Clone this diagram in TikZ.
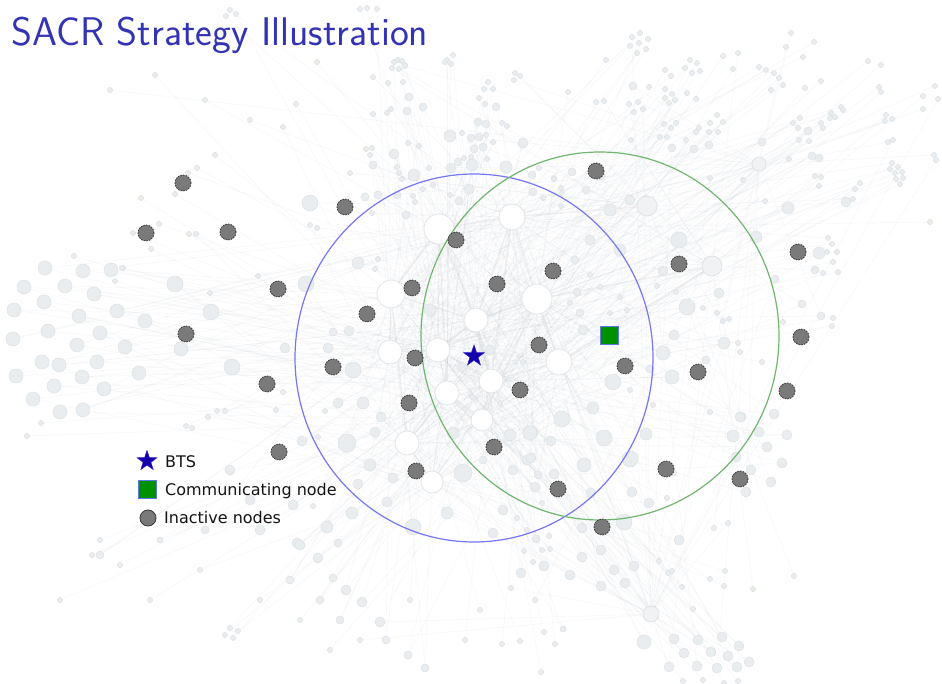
\documentclass[tikz,border=0pt]{standalone}
\usepackage{fontspec}
\newfontfamily\legendfont{DejaVu Sans}
\usetikzlibrary{shapes.geometric}

\definecolor{titleblue}{RGB}{51,51,179}
\definecolor{ringblue}{RGB}{118,118,250}
\definecolor{ringgreen}{RGB}{112,182,112}
\definecolor{inactfill}{RGB}{122,122,122}
\definecolor{inactedge}{RGB}{55,55,55}
\definecolor{btsblue}{RGB}{20,0,168}
\definecolor{btsedge}{RGB}{45,35,200}
\definecolor{commgreen}{RGB}{0,145,0}
\definecolor{commedge}{RGB}{95,120,225}
\definecolor{dotfill}{RGB}{233,237,240}
\definecolor{dotedge}{RGB}{221,226,230}
\definecolor{edgecol}{RGB}{185,196,206}
\definecolor{hubedge}{RGB}{226,229,232}
\definecolor{spoke}{RGB}{205,205,208}

\tikzset{
  bgdot/.style={circle, inner sep=0pt, fill=dotfill, draw=dotedge, line width=0.5pt},
  bgedge/.style={draw=edgecol, line width=0.4pt, opacity=0.15},
  hub/.style={circle, inner sep=0pt, fill=white, draw=hubedge, line width=0.8pt},
  hubsoft/.style={circle, inner sep=0pt, fill=dotfill!70!white, draw=dotedge, line width=0.7pt},
  hublink/.style={draw=spoke, line width=1.6pt, opacity=0.28},
  inactive/.style={circle, inner sep=0pt, minimum size=16pt, fill=inactfill,
    draw=inactedge, line width=0.8pt, dash pattern=on 1.6pt off 1.1pt},
  btsmark/.style={star, star points=5, star point ratio=2.55, inner sep=0pt,
    minimum size=22pt, fill=btsblue, draw=btsedge, line width=0.5pt},
  commmark/.style={rectangle, inner sep=0pt, minimum size=18pt, fill=commgreen,
    draw=commedge, line width=0.9pt},
  rangering/.style={ellipse, inner sep=0pt, line width=1.2pt},
  legendtext/.style={anchor=base west, inner sep=0pt, font=\legendfont\fontsize{16}{19}\selectfont, text=black!92}
}

% hub positions and radii
\def\hublist{439/229/15, 512/217/13, 391/294/14, 537/299/15,
  476/320/12, 438/350/12, 390/352/12, 559/362/13, 491/381/12, 447/393/12,
  482/420/11, 407/443/12, 432/482/11}
\def\softhublist{712/266/10, 647/206/10, 759/164/7, 651/614/8}

% small network nodes
\def\smalllist{230/10, 236/14, 226/16, 360/9, 367/8, 377/9, 398/60, 405/65,
  447/60, 453/55, 394/62, 402/61, 392/68, 399/69, 405/66, 388/83, 403/82, 373/77, 387/113,
  391/109, 373/114, 296/104, 283/127, 317/62, 445/62, 451/64, 488/82, 484/89, 493/89,
  515/73, 520/76, 514/80, 479/98, 485/104, 502/123, 507/126, 568/92, 462/133, 486/135,
  493/142, 408/143, 419/146, 366/149, 372/148, 370/155, 397/167, 399/173, 402/179,
  429/168, 464/158, 471/157, 487/159, 539/168, 554/178, 450/195, 413/196, 415/202,
  423/189, 433/185, 543/198, 561/188, 562/193, 554/179, 561/206, 350/173, 110/90,
  155/75, 205/100, 250/120, 215/155, 188/173, 197/168, 175/194, 141/198, 159/224,
  133/233, 151/249, 189/234, 196/234, 310/225, 317/228, 258/276, 210/293, 373/166,
  366/197, 372/213, 378/194, 378/259, 375/269, 123/268, 74/256, 122/268, 115/281,
  41/423, 27/436, 208/417, 217/411, 225/411, 186/426, 192/428, 632/37, 640/33, 648/39,
  630/46, 639/43, 646/49, 637/53, 606/60, 690/60, 697/63, 685/68, 692/73, 700/71,
  723/56, 738/53, 733/69, 791/33, 786/47, 803/57, 814/42, 671/76, 665/70, 649/87,
  665/89, 672/94, 665/98, 675/100, 669/103, 687/93, 696/99, 596/102, 604/101, 629/104,
  638/102, 643/109, 634/112, 717/115, 710/123, 723/122, 671/128, 676/123, 664/124,
  699/128, 696/132, 709/132, 718/132, 660/137, 667/137, 631/140, 686/140, 743/180,
  710/178, 765/201, 759/67, 766/70, 774/73, 779/78, 783/85, 771/90, 805/88, 821/81,
  868/61, 881/65, 879/87, 881/92, 923/96, 923/109, 935/86, 938/99, 841/107, 843/110,
  831/113, 835/117, 830/118, 800/118, 793/123, 798/128, 821/123, 823/128, 799/140,
  809/141, 789/159, 886/115, 892/119, 885/121, 893/140, 888/142, 892/163, 898/167,
  890/169, 895/173, 902/172, 896/179, 903/178, 900/184, 815/176, 821/177, 819/186,
  855/189, 860/183, 853/199, 934/155, 936/160, 930/222, 828/238, 832/244, 837/252,
  833/262, 827/252, 838/272, 833/318, 832/326, 783/322, 823/273, 657/286, 676/292,
  703/308, 717/313, 723/321, 729/319, 710/412, 653/405, 762/362, 740/352, 738/343,
  600/287, 590/275, 620/297, 627/310, 610/313, 570/303, 630/390, 472/397, 500/403,
  523/362, 714/528, 728/523, 549/536, 524/551, 542/550, 550/549, 533/562, 659/561,
  668/573, 672/571, 682/587, 693/609, 710/579, 724/586, 725/571, 753/589, 794/576,
  535/600, 511/588, 544/632, 555/644, 520/641, 502/644, 541/672, 683/681, 703/680,
  724/683, 738/681, 230/628, 225/635, 233/638, 238/631, 283/392, 276/410, 325/411,
  318/437, 313/506, 542/503, 517/518, 527/530, 537/538, 674/473, 667/498, 100/540,
  92/555, 120/565, 60/600, 150/600, 200/570, 260/600, 300/620, 330/650, 360/640,
  410/600, 465/640, 480/610}

% medium network nodes
\def\mediumlist{45/268/7, 83/271/7, 111/270/7, 24/287/7, 65/286/7,
  94/294/7, 44/302/7, 14/310/7, 79/316/7, 117/311/7, 145/321/7, 175/284/8, 211/312/8,
  48/331/7, 13/339/7, 100/333/7, 77/345/7, 125/347/7, 181/349/7, 42/362/7, 59/365/7,
  97/362/7, 16/376/7, 82/377/7, 139/373/7, 232/367/8, 54/386/7, 104/389/7, 33/399/7,
  60/412/7, 83/410/7, 633/86/4, 672/148/4, 694/149/4, 709/145/4, 762/142/4, 788/208/6,
  808/131/4, 812/156/4, 819/158/4, 846/202/5, 409/97/4, 407/111/4, 423/107/4, 496/107/4,
  478/122/4, 486/124/4, 450/136/6, 471/138/4, 479/137/4, 394/154/5, 373/165/4, 414/175/6,
  451/168/5, 458/162/4, 472/165/6, 483/147/4, 474/149/4, 506/167/6, 523/143/5, 532/175/4,
  572/172/4, 469/189/5, 459/201/4, 310/203/8, 365/197/4, 378/195/4, 397/195/4, 406/215/4,
  533/192/4, 358/263/6, 306/284/8, 285/348/5, 328/348/5, 349/331/5, 333/332/4,
  430/310/6, 490/350/5, 583/330/5, 613/382/8, 580/313/4, 593/408/6, 577/292/4, 462/367/5,
  353/370/8, 363/403/6, 347/443/9, 338/403/5, 375/432/5, 381/417/5, 370/465/6, 393/478/5,
  387/502/5, 358/484/5, 352/513/6, 327/527/6, 338/543/4, 297/543/5, 302/441/5, 293/505/5,
  447/513/6, 413/527/8, 463/473/9, 453/433/6, 483/460/4, 510/435/6, 532/432/6, 527/460/5,
  513/470/5, 538/475/4, 535/487/5, 503/510/5, 493/533/5, 562/419/8, 530/433/7, 551/441/5,
  531/458/5, 554/474/5, 584/465/7, 604/438/8, 630/459/8, 646/434/6, 632/492/5, 649/503/5,
  733/436/6, 741/417/5, 774/414/5, 759/432/5, 787/435/5, 767/447/5, 782/463/5, 751/470/5,
  771/482/5, 746/492/5, 736/457/5, 624/522/8, 679/540/5, 582/528/5, 591/493/5, 679/240/8,
  687/307/8, 719/293/5, 663/353/7, 672/377/7, 724/343/6, 674/335/5, 756/237/6, 819/253/6,
  815/270/4, 802/304/4, 821/316/4, 775/279/4, 740/417/5, 663/271/5, 706/360/4, 650/369/4,
  644/642/7, 674/639/5, 698/640/5, 722/637/5, 739/646/5, 684/653/5, 711/652/5, 728/656/5,
  749/662/5, 669/667/5, 697/666/5, 717/668/5, 737/667/5, 601/550/5, 582/557/5, 614/570/5,
  634/566/5, 625/583/5, 601/586/5, 570/575/5, 521/573/5, 544/566/5, 536/539/4, 563/629/3,
  300/545/5, 318/558/5, 333/578/4, 346/590/5, 362/602/5, 380/622/5, 386/640/4, 408/655/4,
  425/668/4, 320/600/4, 340/620/4, 290/580/4, 100/555/4, 230/470/5, 250/500/5, 260/530/5,
  205/530/4, 160/540/3, 600/175/5, 610/210/6, 586/190/4, 630/200/5, 620/250/6, 590/240/5,
  575/260/4}

\begin{document}
\begin{tikzpicture}[x=1pt, y=-1pt]
\useasboundingbox (0,0) rectangle (942,684);
\fill[white] (0,0) rectangle (942,684);

% hub centres
\foreach \x/\y/\r [count=\k] in \hublist {\coordinate (hc\k) at (\x,\y);}
\foreach \x/\y/\r [count=\k from 14] in \softhublist {\coordinate (hc\k) at (\x,\y);}

% faint links from every node to the hubs
\foreach \x/\y [count=\i] in \smalllist {
  \coordinate (sc\i) at (\x,\y);
  \pgfmathtruncatemacro{\hA}{mod(\i,17)+1}
  \draw[bgedge] (sc\i) -- (hc\hA);
}
\foreach \x/\y/\r [count=\i] in \mediumlist {
  \coordinate (mc\i) at (\x,\y);
  \pgfmathtruncatemacro{\hA}{mod(\i,17)+1}
  \pgfmathtruncatemacro{\hB}{mod(5*\i+3,13)+1}
  \draw[bgedge] (mc\i) -- (hc\hA);
  \draw[bgedge] (mc\i) -- (hc\hB);
}

% heavier links between hubs
\foreach \a/\b in {1/5, 1/3, 2/4, 3/5, 4/5, 5/6, 6/9, 4/8, 7/6, 9/11, 10/12, 1/2,
  3/7, 5/9, 8/9, 10/11, 12/13, 1/6, 2/5, 4/9, 3/12, 6/10, 1/10, 2/9, 4/11, 14/4, 15/2, 14/8}
  {\draw[hublink] (hc\a) -- (hc\b);}

% network nodes
\foreach \x/\y [count=\i] in \smalllist {\node[bgdot, minimum size=5.2pt] (s\i) at (sc\i) {};}
\foreach \x/\y/\r [count=\i] in \mediumlist {\node[bgdot, minimum size=2*\r pt] (m\i) at (mc\i) {};}
\foreach \x/\y/\r [count=\k] in \hublist {\node[hub, minimum size=2*\r pt] (h\k) at (hc\k) {};}
\foreach \x/\y/\r [count=\k from 14] in \softhublist {\node[hubsoft, minimum size=2*\r pt] (h\k) at (hc\k) {};}

% coverage ranges
\node[rangering, draw=ringblue, minimum width=358pt, minimum height=368pt] (btsrange) at (474,358) {};
\node[rangering, draw=ringgreen, minimum width=358pt, minimum height=368pt] (commrange) at (600,336) {};

% inactive nodes
\foreach \x/\y [count=\i] in {183/183, 345/207, 146/233, 228/232, 456/240, 596/171,
  798/252, 679/264, 553/271, 278/289, 412/288, 497/284, 367/314, 186/334, 801/337,
  539/345, 415/358, 333/367, 625/366, 698/372, 267/384, 520/390, 787/391, 409/403,
  494/447, 279/452, 416/471, 666/469, 740/479, 558/489, 602/527}
  {\node[inactive] (n\i) at (\x,\y) {};}

% base station and communicating node
\node[btsmark] (bts) at (474,356) {};
\node[commmark] (comm) at (609,335) {};

% legend
\node[btsmark, minimum size=21pt] (legbts) at (147,461) {};
\node[legendtext] (legbtstext) at (165,467) {BTS};
\node[commmark] (legcomm) at (147,489) {};
\node[legendtext] (legcommtext) at (165,495) {Communicating node};
\node[inactive, solid] (leginact) at (148,518) {};
\node[legendtext] (leginacttext) at (164,523.5) {Inactive nodes};

% title
\node[anchor=base west, inner sep=0pt, text=titleblue,
  font=\sffamily\fontsize{40}{48}\selectfont] (title) at (11,46) {SACR Strategy Illustration};
\end{tikzpicture}
\end{document}
